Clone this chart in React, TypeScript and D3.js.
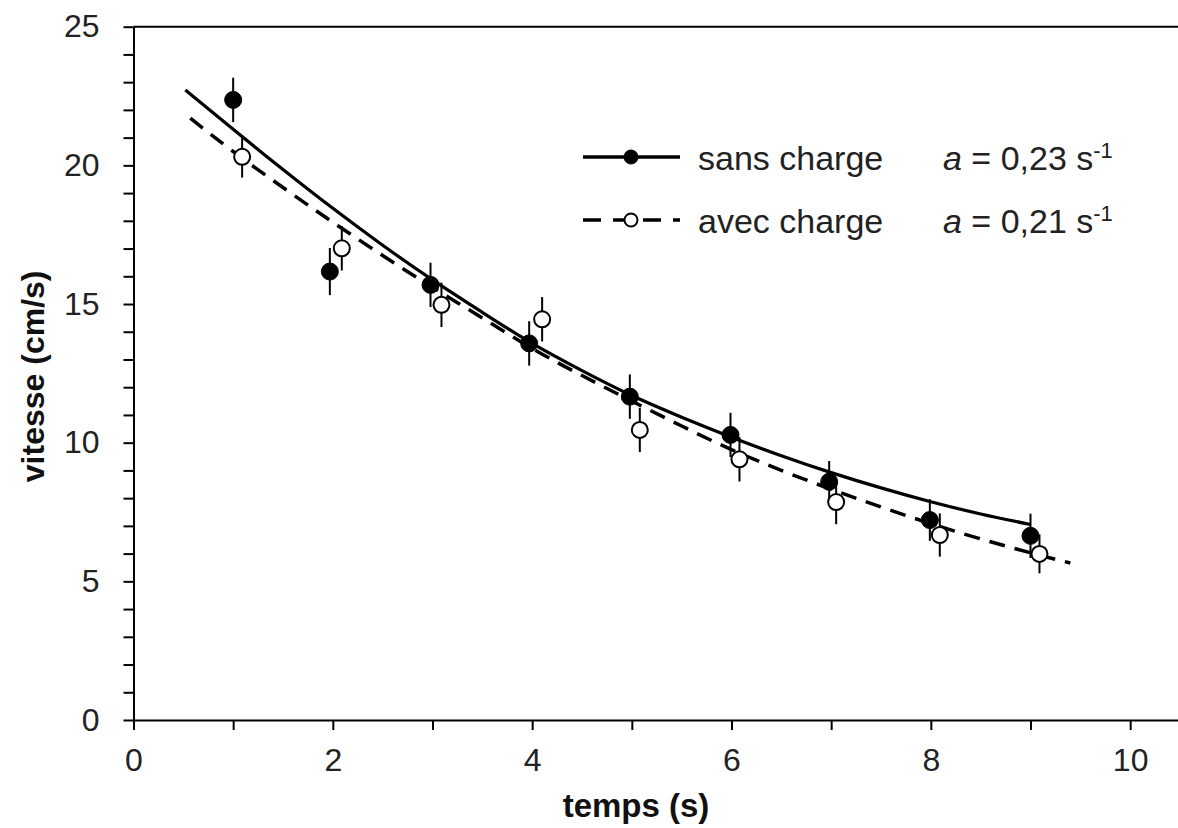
import React, { useEffect, useRef } from 'react';
import * as d3 from 'd3';

// measured points, "sans charge" (filled)
const filledTime = [1.0, 1.97, 2.98, 3.97, 4.98, 5.99, 6.98, 7.99, 9.0];
const filledSpeed = [22.36, 16.17, 15.69, 13.58, 11.66, 10.28, 8.59, 7.21, 6.64];
const filledErr = [0.8, 0.85, 0.8, 0.8, 0.8, 0.8, 0.75, 0.75, 0.8];

// measured points, "avec charge" (open)
const openTime = [1.09, 2.09, 3.09, 4.1, 5.08, 6.08, 7.05, 8.09, 9.09];
const openSpeed = [20.31, 17.01, 14.97, 14.45, 10.46, 9.4, 7.86, 6.67, 5.99];
const openErr = [0.75, 0.8, 0.8, 0.8, 0.8, 0.8, 0.8, 0.78, 0.7];

// fitted curves
const fitSansTime = [0.52, 1, 1.5, 2, 2.5, 3, 3.5, 4, 4.5, 5, 5.5, 6, 6.5, 7, 7.5, 8, 8.5, 9.0];
const fitSansSpeed = [22.72, 21.3, 19.85, 18.45, 17.12, 15.87, 14.7, 13.58, 12.6, 11.7, 10.92, 10.2, 9.53, 8.92, 8.37, 7.87, 7.43, 7.05];
const fitAvecTime = [0.57, 1, 1.5, 2, 2.5, 3, 3.5, 4, 4.5, 5, 5.5, 6, 6.5, 7, 7.5, 8, 8.5, 9, 9.4];
const fitAvecSpeed = [21.7, 20.5, 19.2, 17.95, 16.75, 15.6, 14.5, 13.4, 12.42, 11.5, 10.6, 9.75, 9.0, 8.32, 7.68, 7.08, 6.53, 6.03, 5.66];

const xTicks = [0, 1, 2, 3, 4, 5, 6, 7, 8, 9, 10];
const yTicks = d3.range(0, 26);

const legendLabels = ['sans charge', 'avec charge'];
const legendCoef = ['0,23', '0,21'];

const FONT = '"Liberation Sans", Arial, sans-serif';

function App() {
    const svgRef = useRef<SVGSVGElement>(null);

    useEffect(() => {
        const svg = d3.select(svgRef.current);
        svg.selectAll('*').remove();

        // scales
        const x = d3.scaleLinear().domain([0, 10.5]).range([133.5, 1180]);
        const y = d3.scaleLinear().domain([0, 25]).range([720, 26.7]);

        // x axis
        const xAxis = svg.append('g')
            .attr('transform', `translate(0,${y(0)})`)
            .call(d3.axisBottom(x)
                .tickValues(xTicks)
                .tickFormat(d => (+d % 2 === 0 ? String(d) : ''))
                .tickSize(10)
                .tickSizeOuter(0)
                .tickPadding(18));

        // y axis
        const yAxis = svg.append('g')
            .attr('transform', `translate(${x(0)},0)`)
            .call(d3.axisLeft(y)
                .tickValues(yTicks)
                .tickFormat(d => (+d % 5 === 0 ? String(d) : ''))
                .tickSize(10)
                .tickSizeOuter(0)
                .tickPadding(24));

        [xAxis, yAxis].forEach(g => {
            g.select('.domain').attr('stroke', '#000').attr('stroke-width', 2);
            g.selectAll('.tick line').attr('stroke', '#000').attr('stroke-width', 2);
            g.selectAll('.tick text')
                .attr('font-family', FONT)
                .attr('font-size', 32)
                .attr('fill', '#222');
        });

        // top frame line
        svg.append('line')
            .attr('x1', x(0)).attr('x2', x(10.5))
            .attr('y1', y(25)).attr('y2', y(25))
            .attr('stroke', '#000').attr('stroke-width', 2);

        // axis titles
        svg.append('text')
            .attr('x', 636).attr('y', 817)
            .attr('text-anchor', 'middle')
            .attr('font-family', FONT).attr('font-weight', 'bold').attr('font-size', 33)
            .attr('fill', '#111')
            .text('temps (s)');

        svg.append('text')
            .attr('transform', `translate(44,${(y(0) + y(25)) / 2 + 3}) rotate(-90)`)
            .attr('text-anchor', 'middle')
            .attr('font-family', FONT).attr('font-weight', 'bold').attr('font-size', 32)
            .attr('fill', '#111')
            .text('vitesse (cm/s)');

        // fitted curves
        const line = d3.line<[number, number]>()
            .x(d => x(d[0]))
            .y(d => y(d[1]))
            .curve(d3.curveNatural);

        svg.append('path')
            .datum(fitSansTime.map((t, i) => [t, fitSansSpeed[i]] as [number, number]))
            .attr('fill', 'none')
            .attr('stroke', '#000')
            .attr('stroke-width', 3.2)
            .attr('d', line);

        svg.append('path')
            .datum(fitAvecTime.map((t, i) => [t, fitAvecSpeed[i]] as [number, number]))
            .attr('fill', 'none')
            .attr('stroke', '#000')
            .attr('stroke-width', 3.5)
            .attr('stroke-dasharray', '16,10')
            .attr('d', line);

        // points with error bars
        const drawSeries = (times: number[], speeds: number[], errs: number[], open: boolean) => {
            const g = svg.append('g');
            times.forEach((t, i) => {
                g.append('line')
                    .attr('x1', x(t)).attr('x2', x(t))
                    .attr('y1', y(speeds[i] - errs[i])).attr('y2', y(speeds[i] + errs[i]))
                    .attr('stroke', '#000').attr('stroke-width', 2);
            });
            times.forEach((t, i) => {
                g.append('circle')
                    .attr('cx', x(t)).attr('cy', y(speeds[i]))
                    .attr('r', open ? 8 : 8.5)
                    .attr('fill', open ? '#fff' : '#000')
                    .attr('stroke', '#000')
                    .attr('stroke-width', open ? 2 : 1);
            });
        };
        drawSeries(filledTime, filledSpeed, filledErr, false);
        drawSeries(openTime, openSpeed, openErr, true);

        // legend
        const legend = svg.append('g');
        const rowY = [157, 220];
        legendLabels.forEach((label, i) => {
            const ly = rowY[i];
            legend.append('line')
                .attr('x1', 583).attr('x2', 680)
                .attr('y1', ly).attr('y2', ly)
                .attr('stroke', '#000')
                .attr('stroke-width', 3.5)
                .attr('stroke-dasharray', i === 0 ? null : '18,12');
            legend.append('circle')
                .attr('cx', 631).attr('cy', ly)
                .attr('r', i === 0 ? 7 : 6.5)
                .attr('fill', i === 0 ? '#000' : '#fff')
                .attr('stroke', '#000')
                .attr('stroke-width', i === 0 ? 1 : 2);
            legend.append('text')
                .attr('x', 698).attr('y', ly + 13)
                .attr('font-family', FONT).attr('font-size', 34)
                .attr('fill', '#222')
                .text(label);
            const eq = legend.append('text')
                .attr('x', 943).attr('y', ly + 13)
                .attr('font-family', FONT).attr('font-size', 34)
                .attr('fill', '#222');
            eq.append('tspan').attr('font-style', 'italic').text('a');
            eq.append('tspan').text(` = ${legendCoef[i]} s`);
            eq.append('tspan').attr('font-size', 22).attr('dy', -12).text('-1');
        });
    }, []);

    return (
        <svg
            ref={svgRef}
            width={1178}
            height={828}
            style={{ position: 'absolute', left: 0, top: 0, background: '#fff' }}
        />
    );
}

export default App;
